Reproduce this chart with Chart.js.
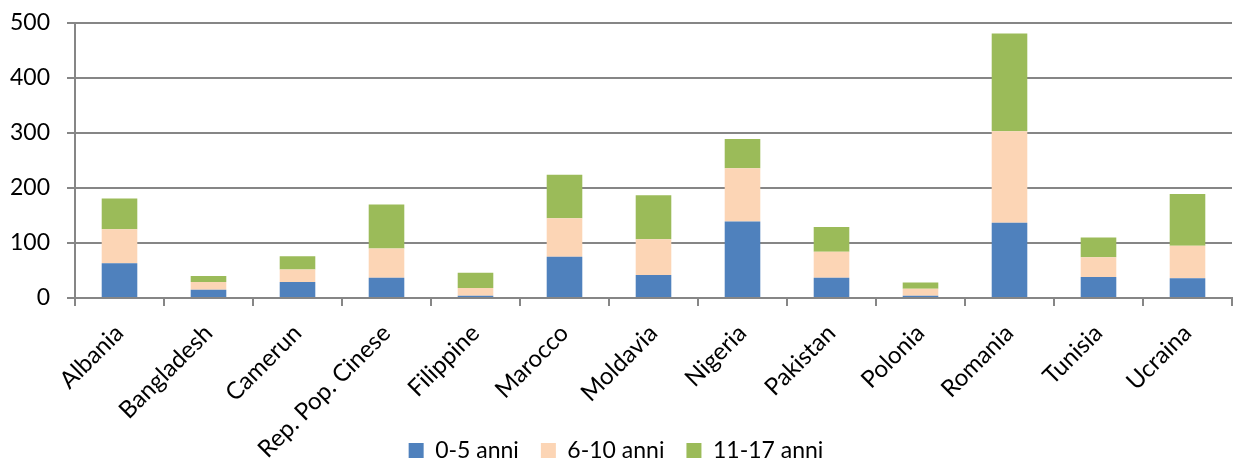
<!DOCTYPE html>
<html>
<head>
<meta charset="utf-8">
<script src="https://cdn.jsdelivr.net/npm/chart.js@4"></script>
<style>
  html, body { margin: 0; padding: 0; background: #fff; }
  #wrap { width: 1234px; height: 459px; }
</style>
</head>
<body>
<div id="wrap"><canvas id="myChart"></canvas></div>
<script>
const paesi = ["Albania", "Bangladesh", "Camerun", "Rep. Pop. Cinese", "Filippine", "Marocco",
  "Moldavia", "Nigeria", "Pakistan", "Polonia", "Romania", "Tunisia", "Ucraina"];
const anni0_5 = [63, 15, 29, 37, 4, 75, 42, 139, 37, 4, 137, 38, 36];
const anni6_10 = [62, 14, 23, 53, 14, 70, 65, 97, 47, 13, 166, 36, 59];
const anni11_17 = [56, 11, 24, 80, 28, 79, 80, 53, 45, 11, 178, 36, 94];
const yTicks = [0, 100, 200, 300, 400, 500];

const gray = '#868686';
const font = "Lato, 'Liberation Sans', sans-serif";

// let the rotated x labels run down beside the legend, and drop the legend lower
const layoutTweaks = {
    id: 'layoutTweaks',
    afterLayout(chart) {
        chart.scales.x.bottom = chart.height;
        const lg = chart.legend;
        lg.top += 13;
        lg.bottom += 13;
    }
};

const ctx = document.getElementById('myChart').getContext('2d');
const myChart = new Chart(ctx, {
    type: 'bar',
    data: {
        labels: paesi,
        datasets: [
            { label: '0-5 anni', data: anni0_5, backgroundColor: '#4F81BD' },
            { label: '6-10 anni', data: anni6_10, backgroundColor: '#FCD5B5' },
            { label: '11-17 anni', data: anni11_17, backgroundColor: '#9BBB59' }
        ]
    },
    options: {
        responsive: true,
        maintainAspectRatio: false,
        animation: false,
        datasets: { bar: { categoryPercentage: 1, barPercentage: 0.4 } },
        layout: { padding: { top: 23, right: 2, left: 0, bottom: 0 } },
        plugins: {
            legend: {
                position: 'bottom',
                labels: {
                    color: '#000',
                    font: { family: font, size: 23 },
                    boxWidth: 15,
                    boxHeight: 15,
                    padding: 22
                }
            },
            tooltip: { enabled: false }
        },
        scales: {
            x: {
                stacked: true,
                afterFit: axis => {
                    axis.height = 106;
                    axis.paddingLeft = 0;
                },
                grid: {
                    offset: true,
                    drawOnChartArea: false,
                    color: gray,
                    lineWidth: 2,
                    tickLength: 8
                },
                border: { color: gray, width: 2 },
                ticks: {
                    color: '#000',
                    font: { family: font, size: 24 },
                    minRotation: 45,
                    maxRotation: 45,
                    autoSkip: false,
                    padding: 13
                }
            },
            y: {
                stacked: true,
                min: 0,
                max: 500,
                afterBuildTicks: axis => { axis.ticks = yTicks.map(v => ({ value: v })); },
                afterFit: axis => {
                    axis.width = 75;
                    axis.paddingTop = 0;
                },
                grid: { color: gray, lineWidth: 2, tickLength: 8 },
                border: { color: gray, width: 2 },
                ticks: {
                    color: '#000',
                    font: { family: font, size: 23 },
                    padding: 17
                }
            }
        }
    },
    plugins: [layoutTweaks]
});
</script>
</body>
</html>
